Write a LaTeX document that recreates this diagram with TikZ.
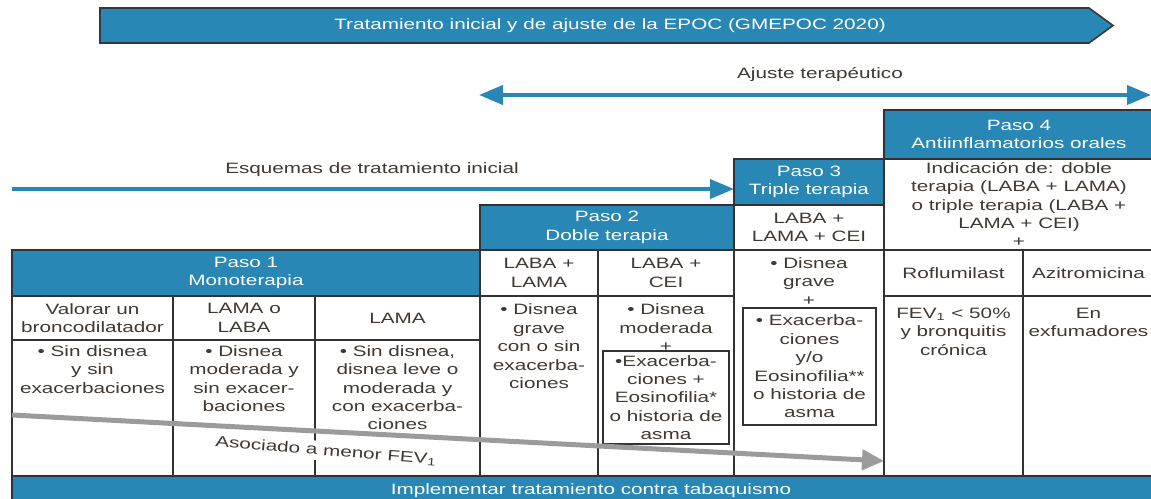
\documentclass[tikz,border=0pt]{standalone}
\usepackage{fontspec}
\setmainfont{Liberation Sans}[FakeStretch=1.38]
\usetikzlibrary{arrows.meta,positioning}
\definecolor{epocblue}{RGB}{40,135,180}
\definecolor{linegray}{RGB}{50,50,50}
\definecolor{txtgray}{RGB}{64,56,50}
\definecolor{arrowgray}{RGB}{155,155,155}
\begin{document}
\begin{tikzpicture}[x=0.5pt, y=-0.5pt,
    every node/.style={font=\fontsize{7.5}{9.2}\selectfont, text=txtgray, align=center, inner sep=0pt},
    cell/.style={rectangle, draw=linegray, line width=1pt},
    hdr/.style={cell, fill=epocblue, text=white},
    ibox/.style={rectangle, draw=linegray, line width=0.8pt},
    bluearrow/.style={draw=epocblue, line width=2pt, -{Triangle[length=12pt,width=9.5pt]}},
    grayarrow/.style={draw=arrowgray, line width=2.5pt, -{Triangle[length=11pt,width=10pt]}}]
        \useasboundingbox (0,0) rectangle (1151,498);

        % banner
        \draw[fill=epocblue, draw=linegray!90!epocblue, line width=0.8pt]
            (100,8) -- (1089,8) -- (1113,25.5) -- (1089,43) -- (100,43) -- cycle;
        \node[text=white] (titulo) at (610,25.5) {Tratamiento inicial y de ajuste de la EPOC (GMEPOC 2020)};

        % flechas azules
        \node (ajuste) at (820,75) {Ajuste terapéutico};
        \coordinate (aj1) at (479,95);
        \coordinate (aj2) at (1151,95);
        \draw[bluearrow, {Triangle[length=12pt,width=9.5pt]}-{Triangle[length=12pt,width=9.5pt]}] (aj1) -- (aj2);

        \node (esquemas) at (372,170) {Esquemas de tratamiento inicial};
        \coordinate (esq1) at (12,189);
        \coordinate (esq2) at (734,189);
        \draw[bluearrow] (esq1) -- (esq2);

        % paso 4
        \node[hdr, minimum width=135pt, minimum height=24.5pt] (p4h) at (1019,134.5) {Paso 4\\Antiinflamatorios orales};
        \node[cell, minimum width=135pt, minimum height=45.5pt] (p4c) at (1019,204.5) {Indicación de: doble\\terapia (LABA + LAMA)\\o triple terapia (LABA +\\LAMA + CEI)\\+};
        \node[cell, minimum width=69.5pt, minimum height=23pt] (p4a) at (953.5,273) {Roflumilast};
        \node[cell, minimum width=65.5pt, minimum height=23pt] (p4b) at (1088.5,273) {Azitromicina};
        \node[cell, minimum width=69.5pt, minimum height=90pt] (p4d) at (953.5,386) {};
        \node[cell, minimum width=65.5pt, minimum height=90pt] (p4e) at (1088.5,386) {};

        % paso 3
        \node[hdr, minimum width=75pt, minimum height=23pt] (p3h) at (809,182) {Paso 3\\Triple terapia};
        \node[cell, minimum width=75pt, minimum height=22.5pt] (p3a) at (809,227.5) {LABA +\\LAMA + CEI};
        \node[cell, minimum width=75pt, minimum height=113pt] (p3c) at (809,363) {};
        \node[ibox, minimum width=66.5pt, minimum height=58.5pt] (p3box) at (809.5,366.5) {• Exacerba-\\ciones\\y/o\\Eosinofilia**\\o historia de\\asma};

        % paso 2
        \node[hdr, minimum width=127pt, minimum height=22.5pt] (p2h) at (607,227.5) {Paso 2\\Doble terapia};
        \node[cell, minimum width=59pt, minimum height=23pt] (p2a) at (539,273) {LABA +\\LAMA};
        \node[cell, minimum width=68pt, minimum height=23pt] (p2b) at (666,273) {LABA +\\CEI};
        \node[cell, minimum width=59pt, minimum height=90pt] (p2c) at (539,386) {};
        \node[cell, minimum width=68pt, minimum height=90pt] (p2d) at (666,386) {};
        \node[ibox, minimum width=63pt, minimum height=46.5pt] (p2box) at (666,397.5) {•Exacerba-\\ciones +\\Eosinofilia*\\o historia de\\asma};

        % paso 1
        \node[hdr, minimum width=234pt, minimum height=23pt] (p1h) at (246,273) {Paso 1\\Monoterapia};
        \node[cell, minimum width=80.5pt, minimum height=22pt] (p1a) at (92.5,318) {Valorar un\\broncodilatador};
        \node[cell, minimum width=71pt, minimum height=22pt] (p1b) at (244,318) {LAMA o\\LABA};
        \node[cell, minimum width=82.5pt, minimum height=22pt] (p1c) at (397.5,318) {LAMA};
        \node[cell, minimum width=80.5pt, minimum height=68pt] (p1d) at (92.5,408) {};
        \node[cell, minimum width=71pt, minimum height=68pt] (p1e) at (244,408) {};
        \node[cell, minimum width=82.5pt, minimum height=68pt] (p1f) at (397.5,408) {};

        % textos de las celdas
        \node[below=3pt of p1d.north] (t1d) {• Sin disnea\\y sin\\exacerbaciones};
        \node[below=3pt of p1e.north] (t1e) {• Disnea\\moderada y\\sin exacer-\\baciones};
        \node[below=3pt of p1f.north] (t1f) {• Sin disnea,\\disnea leve o\\moderada y\\con exacerba-\\ciones};
        \node[below=4.3pt of p2c.north] (t2c) {• Disnea\\grave\\con o sin\\exacerba-\\ciones};
        \node[below=4.3pt of p2d.north] (t2d) {• Disnea\\moderada\\+};
        \node[below=4pt of p3c.north] (t3c) {• Disnea\\grave\\+};
        \node[below=6.3pt of p4d.north] (t4d) {FEV\textsubscript{1} < 50\%\\y bronquitis\\crónica};
        \node[below=6.3pt of p4e.north] (t4e) {En\\exfumadores};

        % fila final
        \node[hdr, minimum width=579pt, minimum height=14.5pt] (tabaco) at (591,490.5) {Implementar tratamiento contra tabaquismo};

        % flecha gris
        \node[fill=white, inner sep=1.5pt, rotate=-4.5] (asoc) at (326,451) {Asociado a menor FEV\textsubscript{1}};
        \coordinate (g1) at (12,415);
        \coordinate (g2) at (884,461);
        \draw[grayarrow] (g1) -- (g2);

    \end{tikzpicture}
\end{document}
